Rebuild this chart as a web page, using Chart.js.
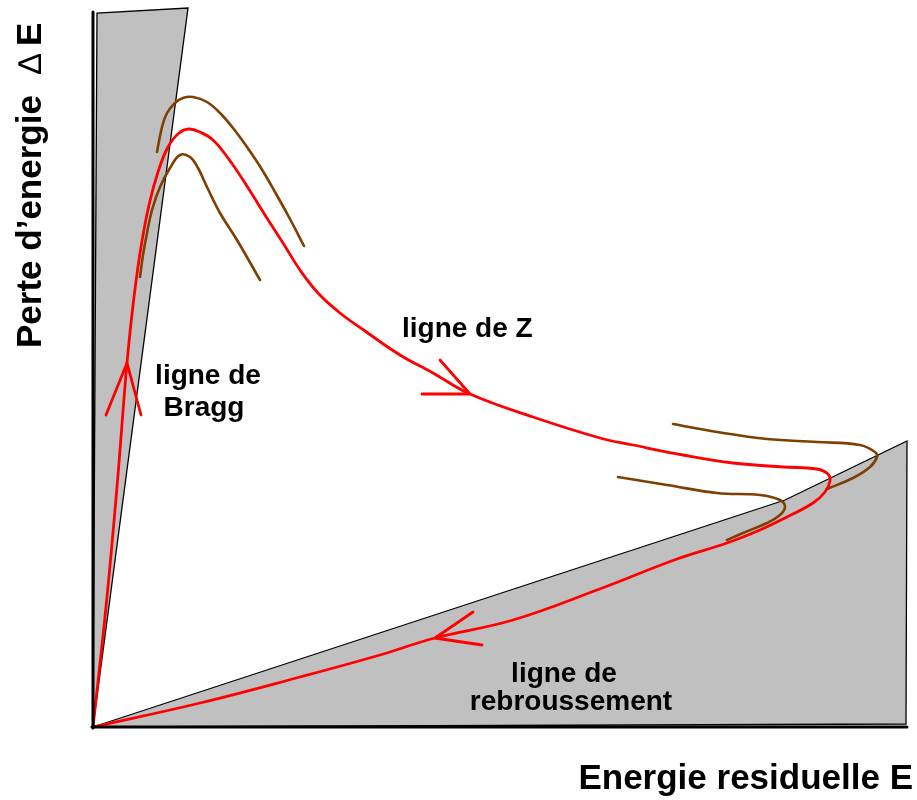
<!DOCTYPE html>
<html lang="fr">
<head>
<meta charset="UTF-8">
<title>Perte d'energie / Energie residuelle</title>
<script src="https://cdn.jsdelivr.net/npm/chart.js"></script>
<style>
  body { margin: 0; background: #fff; }
  #wrap { width: 917px; height: 800px; }
</style>
</head>
<body>
<div id="wrap"><canvas id="diagram"></canvas></div>
<script>
// x = energie residuelle E, y = perte d'energie dE (arbitrary units)
const axisE = [[-1, 0], [814, 0]];
const axisDeltaE = [[0, -1], [0, 715]];

// shaded zones
const braggZone = [[0, 0], [4, 714], [95, 719], [0, 0]];
const rebroussementZone = [[0, 0], [692, 227], [814, 286], [813, 3], [0, 0]];

// red: ligne de Bragg -> ligne de Z -> ligne de rebroussement
const ligneZ = [
  [0, 0], [13, 120], [24, 240], [34, 364], [41, 430], [48, 480], [56, 522],
  [65, 555], [75, 580], [86, 594], [96, 598], [107, 595], [120, 587],
  [135, 569], [152, 544], [172, 512], [190, 484], [207, 457], [225, 434],
  [247, 414], [272, 396], [307, 372], [340, 354], [377, 333],
  [440, 310], [507, 289], [540, 282], [590, 272], [640, 264], [690, 260],
  [724, 258], [735, 253], [737, 246], [732, 235], [720, 224], [694, 210],
  [667, 197], [634, 184], [584, 168], [504, 137], [420, 107], [342, 89],
  [287, 72], [207, 50], [107, 24], [0, 0]
];

// brown: neighbouring Z
const brownUpper = [
  [64, 575], [69, 600], [74, 614], [82, 624], [90, 629], [100, 630],
  [114, 625], [127, 614], [140, 599], [154, 580], [168, 559], [182, 535],
  [197, 508], [211, 481]
];
const brownLower = [
  [47, 450], [50, 472], [54, 494], [59, 517], [67, 540], [77, 559],
  [87, 572], [97, 570], [105, 559], [114, 540], [127, 514], [144, 487],
  [167, 447]
];
const brownRightUpper = [
  [580, 303], [624, 295], [674, 288], [724, 285], [767, 282], [782, 275],
  [784, 270], [777, 260], [760, 249], [734, 238]
];
const brownRightLower = [
  [525, 250], [574, 242], [624, 234], [667, 232], [687, 227], [692, 220],
  [687, 212], [674, 204], [650, 194], [634, 187]
];

// arrow heads
const arrowBragg = [[13, 312], [34, 364], [48, 312]];
const arrowZ = [[329, 333], [377, 333], [347, 367]];
const arrowRebroussement = [[380, 115], [342, 89], [389, 82]];

const pts = arr => arr.map(p => ({ x: p[0], y: p[1] }));

function zone(data) {
  return {
    data: pts(data), showLine: true, fill: 'shape', tension: 0,
    backgroundColor: '#c0c0c0', borderColor: '#000', borderWidth: 1.3,
    pointRadius: 0, order: 5
  };
}
function curve(data, color, width, tension, order) {
  return {
    data: pts(data), showLine: true, fill: false, tension: tension,
    borderColor: color, borderWidth: width, pointRadius: 0,
    borderCapStyle: 'round', borderJoinStyle: 'round', order: order
  };
}

const RED = '#ff0000';
const BROWN = '#7f3f00';

// labels drawn on top
const labels = {
  id: 'labels',
  afterDraw(chart) {
    const ctx = chart.ctx;
    ctx.save();
    ctx.fillStyle = '#000';
    ctx.textBaseline = 'alphabetic';
    ctx.font = 'bold 28px "Liberation Sans", Arial, sans-serif';
    ctx.textAlign = 'left';
    ctx.fillText('ligne de Z', 402, 337);
    ctx.textAlign = 'center';
    ctx.fillText('ligne de', 208, 384);
    ctx.fillText('Bragg', 204, 416);
    ctx.fillText('ligne de', 564, 682);
    ctx.fillText('rebroussement', 571, 710);

    ctx.font = 'bold 35px "Liberation Sans", Arial, sans-serif';
    ctx.textAlign = 'right';
    ctx.fillText('Energie residuelle E', 913, 789);

    ctx.translate(41, 348);
    ctx.rotate(-Math.PI / 2);
    ctx.textAlign = 'left';
    ctx.fillText('Perte d\u2019energie', 0, 0);
    ctx.font = '33px "Liberation Sans", Arial, sans-serif';
    ctx.fillText('\u2206', 274, 0);
    ctx.font = 'bold 35px "Liberation Sans", Arial, sans-serif';
    ctx.fillText('E', 302, 0);
    ctx.restore();
  }
};

new Chart(document.getElementById('diagram'), {
  type: 'scatter',
  data: {
    datasets: [
      zone(braggZone),
      zone(rebroussementZone),
      curve(brownUpper, BROWN, 2.6, 0.4, 3),
      curve(brownLower, BROWN, 2.6, 0.4, 3),
      curve(brownRightUpper, BROWN, 2.6, 0.4, 3),
      curve(brownRightLower, BROWN, 2.6, 0.4, 3),
      curve(ligneZ, RED, 2.8, 0.4, 2),
      curve(arrowBragg, RED, 2.8, 0, 2),
      curve(arrowZ, RED, 2.8, 0, 2),
      curve(arrowRebroussement, RED, 2.8, 0, 2),
      curve(axisE, '#000', 3, 0, 1),
      curve(axisDeltaE, '#000', 3, 0, 1)
    ]
  },
  options: {
    responsive: true,
    maintainAspectRatio: false,
    animation: false,
    layout: { padding: 0 },
    plugins: { legend: { display: false }, tooltip: { enabled: false } },
    scales: {
      x: { type: 'linear', min: -93, max: 824, display: false },
      y: { type: 'linear', min: -73, max: 727, display: false }
    }
  },
  plugins: [labels]
});
</script>
</body>
</html>
